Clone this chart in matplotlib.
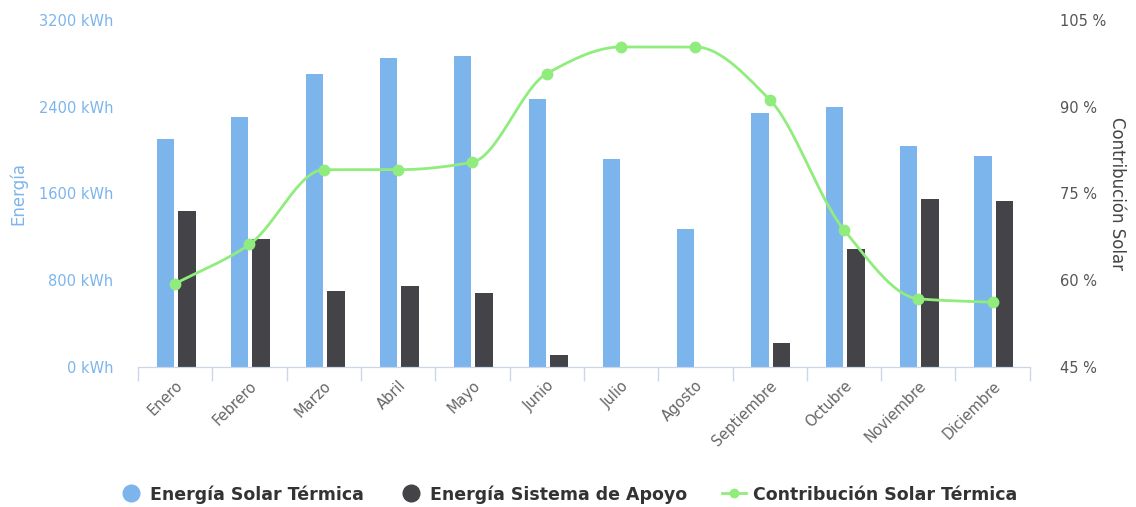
import numpy as np
import matplotlib
matplotlib.use("Agg")
import matplotlib.pyplot as plt
from matplotlib.lines import Line2D

meses = ["Enero", "Febrero", "Marzo", "Abril", "Mayo", "Junio", "Julio",
         "Agosto", "Septiembre", "Octubre", "Noviembre", "Diciembre"]
solar_termica = [2100, 2305, 2700, 2850, 2870, 2470, 1920, 1275, 2345, 2400, 2040, 1945]
sistema_apoyo = [1440, 1180, 700, 745, 685, 110, 0, 0, 220, 1090, 1550, 1530]
contribucion = [59.4, 66.2, 79.1, 79.1, 80.4, 95.7, 100.3, 100.3, 91.2, 68.7, 56.8, 56.2]

AZUL = "#7cb5ec"
GRIS = "#434348"
VERDE = "#90ed7d"


def monotone_curve(x, y, n=30):
    # curva cubica monotona (Fritsch-Carlson) solo para suavizar el trazo
    x = np.asarray(x, float)
    y = np.asarray(y, float)
    h = np.diff(x)
    d = np.diff(y) / h
    m = np.zeros_like(y)
    m[0], m[-1] = d[0], d[-1]
    for i in range(1, len(y) - 1):
        if d[i - 1] * d[i] <= 0:
            m[i] = 0
        else:
            m[i] = 2 / (1 / d[i - 1] + 1 / d[i])
    xs, ys = [], []
    for i in range(len(h)):
        t = np.linspace(0, 1, n, endpoint=False)
        h00 = 2 * t**3 - 3 * t**2 + 1
        h10 = t**3 - 2 * t**2 + t
        h01 = -2 * t**3 + 3 * t**2
        h11 = t**3 - t**2
        xs.append(x[i] + t * h[i])
        ys.append(h00 * y[i] + h10 * h[i] * m[i] + h01 * y[i + 1] + h11 * h[i] * m[i + 1])
    xs.append([x[-1]])
    ys.append([y[-1]])
    return np.concatenate(xs), np.concatenate(ys)


fig = plt.figure(figsize=(11.36, 5.07), dpi=100)
ax = fig.add_axes([0.1215, 0.276, 0.785, 0.685])
ax2 = ax.twinx()

x = np.arange(len(meses))
ax.bar(x - 0.13, solar_termica, width=0.23, color=AZUL, zorder=2)
ax.bar(x + 0.16, sistema_apoyo, width=0.24, color=GRIS, zorder=2)

xs, ys = monotone_curve(x, contribucion)
ax2.plot(xs, ys, color=VERDE, lw=2, zorder=3)
ax2.plot(x, contribucion, "o", color=VERDE, ms=7.5, zorder=4)

ax.set_xlim(-0.5, len(meses) - 0.5)
ax.set_ylim(0, 3200)
ax2.set_ylim(45, 105)

ax.set_yticks([0, 800, 1600, 2400, 3200])
ax.set_yticklabels([f"{v} kWh" for v in [0, 800, 1600, 2400, 3200]])
ax2.set_yticks([45, 60, 75, 90, 105])
ax2.set_yticklabels([f"{v} %" for v in [45, 60, 75, 90, 105]])

ax.tick_params(axis="y", length=0, pad=18, labelsize=10.5, labelcolor=AZUL)
ax2.tick_params(axis="y", length=0, pad=22, labelsize=10.5, labelcolor="#555555")

ax.set_xticks(x)
ax.set_xticklabels(meses, rotation=45, ha="right", rotation_mode="anchor",
                   fontsize=10.5, color="#666666")
ax.tick_params(axis="x", length=0, pad=8)
ax.set_xticks(np.arange(len(meses) + 1) - 0.5, minor=True)
ax.tick_params(axis="x", which="minor", length=10, color="#ccd6eb", width=1)

for a in (ax, ax2):
    for s in ["top", "left", "right"]:
        a.spines[s].set_visible(False)
    a.spines["bottom"].set_color("#ccd6eb")

ax.set_ylabel("Energía", color=AZUL, fontsize=12, labelpad=8)
ax2.set_ylabel("Contribución Solar", color="#444444", fontsize=12,
               rotation=270, labelpad=14)

handles = [
    Line2D([], [], marker="o", ls="", color=AZUL, ms=12),
    Line2D([], [], marker="o", ls="", color=GRIS, ms=12),
    Line2D([], [], marker="o", ls="-", lw=2, color=VERDE, ms=6),
]
labels = ["Energía Solar Térmica", "Energía Sistema de Apoyo", "Contribución Solar Térmica"]
fig.legend(handles, labels, loc="center", bbox_to_anchor=(0.5, 0.025), ncol=3,
           frameon=False, handlelength=1.4, handletextpad=0.4, columnspacing=2.0,
           prop={"weight": "bold", "size": 12.5}, labelcolor="#333333")

fig.savefig("out.png", dpi=100)
